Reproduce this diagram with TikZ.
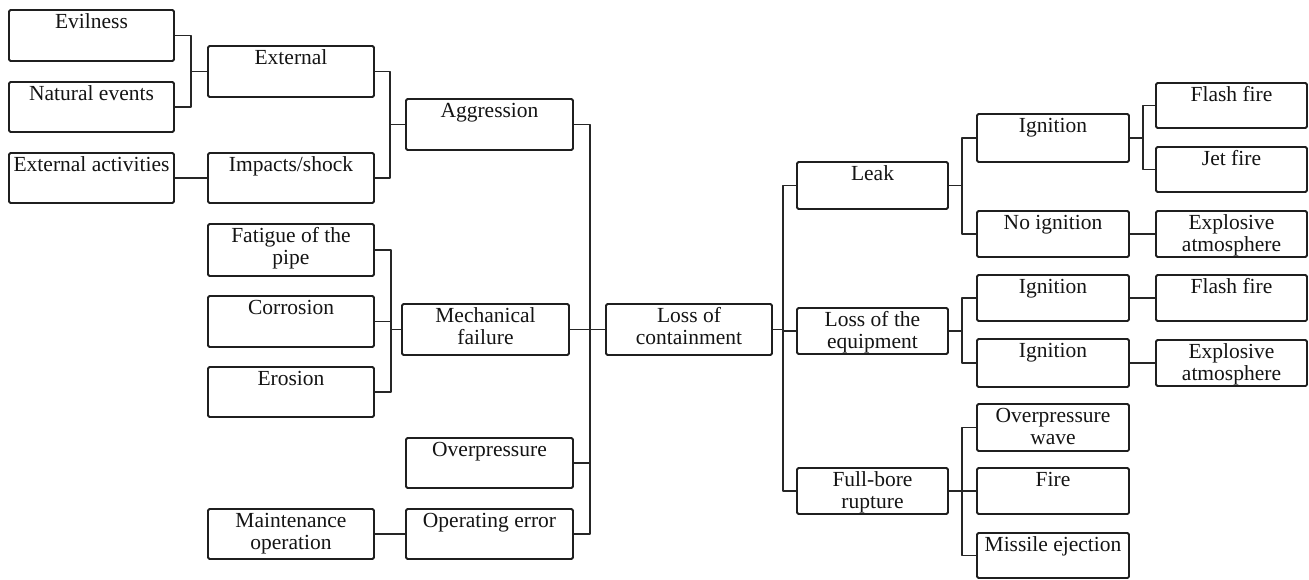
\documentclass[tikz,border=0pt]{standalone}
\usepackage{fontspec}
\setmainfont{Liberation Serif}
\begin{document}
\begin{tikzpicture}[x=1pt,y=-1pt,
  box/.style={draw=black!88, line width=1.8pt, rounded corners=1.5pt, inner sep=0pt},
  lbl/.style={anchor=base, inner sep=0pt, text=black!92,
              font=\fontsize{21.5}{22}\selectfont},
  conn/.style={draw=black!85, line width=1.8pt, line join=round}]
\fill[white] (0,0) rectangle (1309,579);
\useasboundingbox (0,0) rectangle (1309,579);
\newcommand\bx[6]{%
  \node[box, minimum width={#4-#2}, minimum height={#5-#3}] (#1) at ({(#2+#4)/2},{(#3+#5)/2}) {};
  \node[lbl] (#1-t) at ([yshift=-19.5pt]#1.north) {\begin{tabular}[t]{@{}c@{}}#6\end{tabular}};}
% left columns
\bx{evil}{9}{10}{174}{61}{Evilness}
\bx{nat}{9}{82}{174}{132}{Natural events}
\bx{extact}{9}{153}{174}{203}{External activities}
\bx{ext}{208}{46}{374}{97}{External}
\bx{imp}{208}{153}{374}{203}{Impacts/shock}
\bx{fat}{208}{224}{374}{276}{Fatigue of the\\pipe}
\bx{cor}{208}{296}{374}{347}{Corrosion}
\bx{ero}{208}{367}{374}{417}{Erosion}
\bx{maint}{208}{509}{374}{559}{Maintenance\\operation}
\bx{agg}{406}{99}{573}{150}{Aggression}
\bx{mech}{402}{304}{569}{355}{Mechanical\\failure}
\bx{over}{406}{438}{573}{488}{Overpressure}
\bx{operr}{406}{509}{573}{559}{Operating error}
\bx{loc}{606}{304}{772}{355}{Loss of\\containment}
% right columns
\bx{leak}{797}{162}{948}{209}{Leak}
\bx{loe}{797}{308}{948}{354}{Loss of the\\equipment}
\bx{fb}{797}{468}{948}{514}{Full-bore\\rupture}
\bx{ign1}{977}{114}{1129}{162}{Ignition}
\bx{ni}{977}{211}{1129}{257}{No ignition}
\bx{ign2}{977}{275}{1129}{321}{Ignition}
\bx{ign3}{977}{339}{1129}{387}{Ignition}
\bx{ow}{977}{404}{1129}{451}{Overpressure\\wave}
\bx{fire}{977}{468}{1129}{514}{Fire}
\bx{mis}{977}{533}{1129}{578}{Missile ejection}
\bx{ff1}{1156}{83}{1307}{128}{Flash fire}
\bx{jf}{1156}{147}{1307}{192}{Jet fire}
\bx{ea1}{1156}{211}{1307}{257}{Explosive\\atmosphere}
\bx{ff2}{1156}{275}{1307}{321}{Flash fire}
\bx{ea2}{1156}{340}{1307}{386}{Explosive\\atmosphere}
% bus coordinates
\coordinate (bA) at (191,0);
\coordinate (bB) at (390,0);
\coordinate (bC) at (391,0);
\coordinate (bD) at (590,0);
\coordinate (bE) at (783,0);
\coordinate (bF) at (962,0);
\coordinate (bG) at (1143,0);
% connectors left
\draw[conn] (evil.east) -- (evil.east -| bA) -- (nat.east -| bA) -- (nat.east);
\draw[conn] (ext.west) -- (ext.west -| bA);
\draw[conn] (extact.east) -- (imp.west);
\draw[conn] (ext.east) -- (ext.east -| bB) -- (imp.east -| bB) -- (imp.east);
\draw[conn] (agg.west) -- (agg.west -| bB);
\draw[conn] (fat.east) -- (fat.east -| bC) -- (ero.east -| bC) -- (ero.east);
\draw[conn] (cor.east) -- (cor.east -| bC);
\draw[conn] (mech.west) -- (mech.west -| bC);
\draw[conn] (maint.east) -- (operr.west);
\draw[conn] (agg.east) -- (agg.east -| bD) -- (operr.east -| bD) -- (operr.east);
\draw[conn] (over.east) -- (over.east -| bD);
\draw[conn] (mech.east) -- (loc.west);
% connectors right
\draw[conn] (loc.east) -- (loc.east -| bE);
\draw[conn] (leak.west) -- (leak.west -| bE) -- (fb.west -| bE) -- (fb.west);
\draw[conn] (loe.west) -- (loe.west -| bE);
\draw[conn] (leak.east) -- (leak.east -| bF);
\draw[conn] (ign1.west) -- (ign1.west -| bF) -- (ni.west -| bF) -- (ni.west);
\draw[conn] (loe.east) -- (loe.east -| bF);
\draw[conn] (ign2.west) -- (ign2.west -| bF) -- (ign3.west -| bF) -- (ign3.west);
\draw[conn] (fb.east) -- (fb.east -| bF);
\draw[conn] (ow.west) -- (ow.west -| bF) -- (mis.west -| bF) -- (mis.west);
\draw[conn] (fire.west) -- (fire.west -| bF);
\draw[conn] (ign1.east) -- (ign1.east -| bG);
\draw[conn] (ff1.west) -- (ff1.west -| bG) -- (jf.west -| bG) -- (jf.west);
\draw[conn] (ni.east) -- (ea1.west);
\draw[conn] (ign2.east) -- (ff2.west);
\draw[conn] (ign3.east) -- (ea2.west);
\end{tikzpicture}
\end{document}
